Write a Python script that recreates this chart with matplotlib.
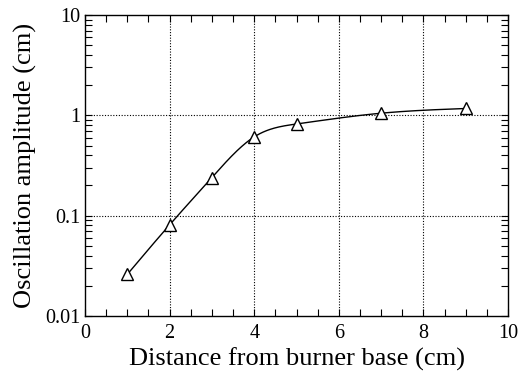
import numpy as np
import matplotlib
matplotlib.use("Agg")
import matplotlib.pyplot as plt
from matplotlib.ticker import MultipleLocator, LogLocator, NullFormatter, FixedFormatter, FixedLocator

# Measured amplitude along the flame
distance = [1, 2, 3, 4, 5, 7, 9]
amplitude = [0.026, 0.081, 0.24, 0.61, 0.82, 1.05, 1.17]

x_ticks = [0, 2, 4, 6, 8, 10]
y_ticks = [0.01, 0.1, 1, 10]
y_tick_labels = ["0.01", "0.1", "1", "10"]


def natural_spline(x, y, xs):
    # Natural cubic spline through (x, y), evaluated at xs
    x = np.asarray(x, float)
    y = np.asarray(y, float)
    n = len(x)
    h = np.diff(x)
    A = np.zeros((n, n))
    b = np.zeros(n)
    A[0, 0] = A[-1, -1] = 1.0
    for i in range(1, n - 1):
        A[i, i - 1] = h[i - 1]
        A[i, i] = 2 * (h[i - 1] + h[i])
        A[i, i + 1] = h[i]
        b[i] = 3 * ((y[i + 1] - y[i]) / h[i] - (y[i] - y[i - 1]) / h[i - 1])
    c = np.linalg.solve(A, b)
    out = np.empty_like(xs)
    for k, xv in enumerate(xs):
        i = min(max(np.searchsorted(x, xv) - 1, 0), n - 2)
        dx = xv - x[i]
        bi = (y[i + 1] - y[i]) / h[i] - h[i] * (2 * c[i] + c[i + 1]) / 3
        di = (c[i + 1] - c[i]) / (3 * h[i])
        out[k] = y[i] + bi * dx + c[i] * dx ** 2 + di * dx ** 3
    return out


plt.rcParams['font.family'] = ['Liberation Serif', 'DejaVu Serif']

fig = plt.figure(figsize=(5.26, 3.75), dpi=100)
ax = fig.add_axes([0.1616, 0.1573, 0.8042, 0.8027])

# smooth curve drawn in log space through the measured points
xs = np.linspace(distance[0], distance[-1], 300)
ys = 10 ** natural_spline(distance, np.log10(amplitude), xs)
ax.plot(xs, ys, color="black", lw=1.0)
ax.plot(distance, amplitude, linestyle="none", marker="^", markersize=9,
        markerfacecolor="white", markeredgecolor="black", markeredgewidth=1.0)

ax.set_yscale("log")
ax.set_xlim(0, 10)
ax.set_ylim(0.01, 10)

ax.xaxis.set_major_locator(FixedLocator(x_ticks))
ax.xaxis.set_minor_locator(MultipleLocator(0.5))
ax.yaxis.set_major_locator(FixedLocator(y_ticks))
ax.yaxis.set_major_formatter(FixedFormatter(y_tick_labels))
ax.yaxis.set_minor_locator(LogLocator(base=10, subs=np.arange(2, 10)))
ax.yaxis.set_minor_formatter(NullFormatter())

ax.tick_params(which="both", direction="in", top=True, right=True,
               labelsize=14.5, width=0.8, length=5)
ax.tick_params(axis="x", which="major", pad=6)
ax.tick_params(axis="y", which="major", pad=3)

for s in ax.spines.values():
    s.set_linewidth(1.0)

# dotted grid on interior major ticks only
for gx in x_ticks[1:-1]:
    ax.axvline(gx, color="black", lw=0.8, ls=(0, (1, 1.5)), zorder=0)
for gy in y_ticks[1:-1]:
    ax.axhline(gy, color="black", lw=0.8, ls=(0, (1, 1.5)), zorder=0)

ax.set_xlabel("Distance from burner base (cm)", fontsize=19, labelpad=3)
ax.set_ylabel("Oscillation amplitude (cm)", fontsize=19, labelpad=6)

fig.savefig("out.png", dpi=100)
